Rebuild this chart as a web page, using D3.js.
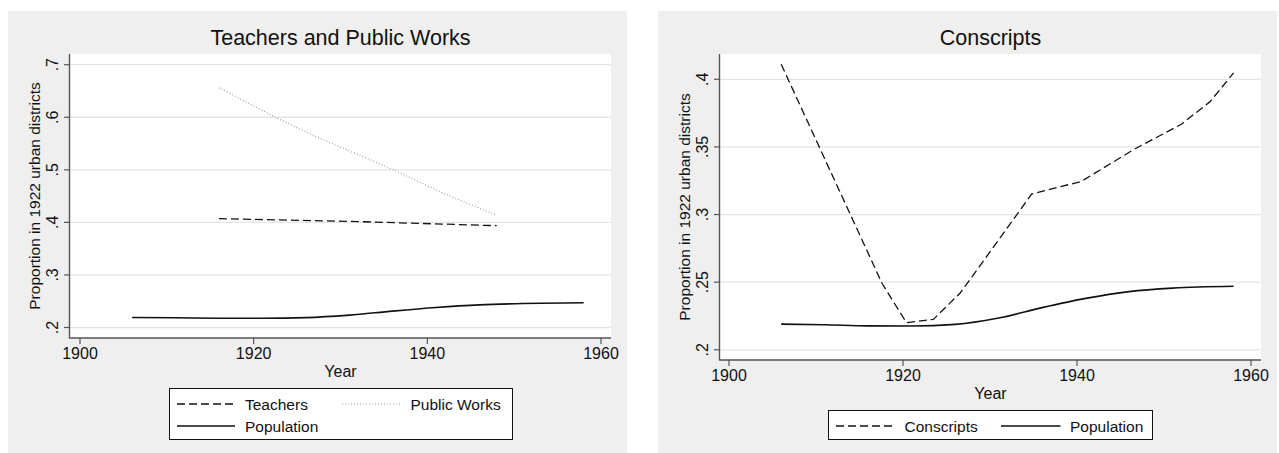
<!DOCTYPE html>
<html>
<head>
<meta charset="utf-8">
<script src="https://cdn.jsdelivr.net/npm/d3@7"></script>
<style>
  html, body { margin: 0; padding: 0; background: #ffffff; }
  svg { display: block; }
  text { font-family: "Liberation Sans", Arial, sans-serif; fill: #111; }
</style>
</head>
<body>
<svg id="chart" width="1279" height="453"></svg>
<script>
// ---------- Data ----------
const populationYears  = [1906, 1911, 1916, 1921, 1926, 1931, 1936, 1941, 1946, 1951, 1958];
const populationValues = [0.2190, 0.2185, 0.2177, 0.2176, 0.2188, 0.2235, 0.2312, 0.2380, 0.2430, 0.2456, 0.2470];

const teacherYears  = [1916, 1932, 1948];
const teacherValues = [0.4070, 0.4015, 0.3937];

const publicWorksYears  = [1916, 1922.6, 1927.6, 1935.7, 1941.8, 1948];
const publicWorksValues = [0.6562, 0.5993, 0.5600, 0.5032, 0.4558, 0.4133];

const conscriptYears  = [1906, 1917.6, 1920.4, 1923.5, 1926.6, 1934.8, 1940.5, 1946.5, 1952, 1955.3, 1958];
const conscriptValues = [0.4111, 0.2490, 0.2200, 0.2225, 0.2422, 0.3152, 0.3245, 0.3480, 0.3668, 0.3835, 0.4047];

const xTicks = [1900, 1920, 1940, 1960];
const leftYTicks  = [0.2, 0.3, 0.4, 0.5, 0.6, 0.7];
const leftYLabels = [".2", ".3", ".4", ".5", ".6", ".7"];
const rightYTicks  = [0.2, 0.25, 0.3, 0.35, 0.4];
const rightYLabels = [".2", ".25", ".3", ".35", ".4"];

const leftTitle  = "Teachers and Public Works";
const rightTitle = "Conscripts";
const xTitle = "Year";
const yTitle = "Proportion in 1922 urban districts";

// ---------- Drawing ----------
const svg = d3.select("#chart");

const styles = {
  dashed: { stroke: "#111", width: 1.3, dash: "8,4" },
  dotted: { stroke: "#999", width: 1.1, dash: "1,2" },
  solid:  { stroke: "#111", width: 1.6, dash: null }
};

function zip(xs, ys) { return xs.map((x, i) => ({ x: x, y: ys[i] })); }

function drawPanel(p) {
  const g = svg.append("g");
  g.append("rect").attr("x", p.bg[0]).attr("y", p.bg[1])
    .attr("width", p.bg[2]).attr("height", p.bg[3]).attr("fill", "#efefef");
  g.append("rect").attr("x", p.plot[0]).attr("y", p.plot[1])
    .attr("width", p.plot[2] - p.plot[0]).attr("height", p.plot[3] - p.plot[1])
    .attr("fill", "#ffffff");

  const x = d3.scaleLinear().domain([1900, 1960]).range(p.xRange);
  const y = d3.scaleLinear().domain(p.yDomain).range(p.yRange);

  g.selectAll(".grid").data(p.yTicks).enter().append("line")
    .attr("x1", p.plot[0]).attr("x2", p.plot[2])
    .attr("y1", d => y(d)).attr("y2", d => y(d))
    .attr("stroke", "#e4e4e4").attr("stroke-width", 1.3);

  p.series.forEach(s => {
    const st = styles[s.style];
    const line = d3.line().x(d => x(d.x)).y(d => y(d.y))
      .curve(s.smooth ? d3.curveMonotoneX : d3.curveLinear);
    g.append("path").datum(zip(s.xs, s.ys)).attr("d", line)
      .attr("fill", "none").attr("stroke", st.stroke)
      .attr("stroke-width", st.width)
      .attr("stroke-dasharray", st.dash)
      .attr("stroke-linejoin", "round");
  });

  const axisColor = "#555";
  g.append("line").attr("x1", p.plot[0] - 0.5).attr("x2", p.plot[0] - 0.5)
    .attr("y1", p.plot[1]).attr("y2", p.plot[3] + 0.5)
    .attr("stroke", axisColor).attr("stroke-width", 1.4);
  g.append("line").attr("x1", p.plot[0] - 0.5).attr("x2", p.plot[2])
    .attr("y1", p.plot[3]).attr("y2", p.plot[3])
    .attr("stroke", axisColor).attr("stroke-width", 1.4);

  g.selectAll(".yt").data(p.yTicks).enter().append("line")
    .attr("x1", p.plot[0] - 6).attr("x2", p.plot[0])
    .attr("y1", d => y(d)).attr("y2", d => y(d))
    .attr("stroke", axisColor).attr("stroke-width", 1.2);
  g.selectAll(".yl").data(p.yTicks).enter().append("text")
    .attr("transform", d => `translate(${p.plot[0] - 12.5},${y(d)}) rotate(-90)`)
    .attr("text-anchor", "middle").attr("font-size", 16)
    .text((d, i) => p.yLabels[i]);

  g.selectAll(".xt").data(xTicks).enter().append("line")
    .attr("x1", d => x(d)).attr("x2", d => x(d))
    .attr("y1", p.plot[3]).attr("y2", p.plot[3] + 6)
    .attr("stroke", axisColor).attr("stroke-width", 1.2);
  g.selectAll(".xl").data(xTicks).enter().append("text")
    .attr("x", d => x(d)).attr("y", p.plot[3] + 20.5)
    .attr("text-anchor", "middle").attr("font-size", 16)
    .text(d => d);

  const cx = (p.plot[0] + p.plot[2]) / 2;
  const cy = (p.plot[1] + p.plot[3]) / 2;
  g.append("text").attr("x", cx).attr("y", p.plot[3] + 38.5)
    .attr("text-anchor", "middle").attr("font-size", 16).text(xTitle);
  g.append("text")
    .attr("transform", `translate(${p.plot[0] - 30},${cy}) rotate(-90)`)
    .attr("text-anchor", "middle").attr("font-size", 15.5).text(yTitle);

  g.append("text").attr("x", cx).attr("y", 45)
    .attr("text-anchor", "middle").attr("font-size", 21.5).text(p.title);

  const lg = p.legend;
  g.append("rect").attr("x", lg.box[0] + 0.5).attr("y", lg.box[1] + 0.5)
    .attr("width", lg.box[2] - lg.box[0]).attr("height", lg.box[3] - lg.box[1])
    .attr("fill", "#fff").attr("stroke", "#111").attr("stroke-width", 1);
  lg.items.forEach(it => {
    const st = styles[it.style];
    g.append("line").attr("x1", it.x0).attr("x2", it.x1)
      .attr("y1", it.y).attr("y2", it.y)
      .attr("stroke", st.stroke).attr("stroke-width", st.width)
      .attr("stroke-dasharray", st.dash);
    g.append("text").attr("x", it.tx).attr("y", it.y + 5.5)
      .attr("font-size", 15.5).text(it.label);
  });
}

drawPanel({
  bg: [8, 11, 619, 442],
  plot: [70, 54, 611, 338],
  xRange: [80, 601],
  yDomain: [0.2, 0.7],
  yRange: [327.5, 64.7],
  yTicks: leftYTicks,
  yLabels: leftYLabels,
  title: leftTitle,
  series: [
    { xs: populationYears, ys: populationValues, style: "solid", smooth: true },
    { xs: teacherYears, ys: teacherValues, style: "dashed" },
    { xs: publicWorksYears, ys: publicWorksValues, style: "dotted" }
  ],
  legend: {
    box: [169, 388, 512, 439],
    items: [
      { label: "Teachers", style: "dashed", x0: 177, x1: 235, tx: 245, y: 404 },
      { label: "Public Works", style: "dotted", x0: 342, x1: 401, tx: 410.5, y: 404 },
      { label: "Population", style: "solid", x0: 177, x1: 235, tx: 245, y: 426 }
    ]
  }
});

drawPanel({
  bg: [658, 11, 619, 442],
  plot: [720, 54, 1261, 360],
  xRange: [729, 1251],
  yDomain: [0.2, 0.4],
  yRange: [349.8, 79.3],
  yTicks: rightYTicks,
  yLabels: rightYLabels,
  title: rightTitle,
  series: [
    { xs: populationYears, ys: populationValues, style: "solid", smooth: true },
    { xs: conscriptYears, ys: conscriptValues, style: "dashed" }
  ],
  legend: {
    box: [828, 410, 1152, 439],
    items: [
      { label: "Conscripts", style: "dashed", x0: 836, x1: 895, tx: 904.5, y: 426 },
      { label: "Population", style: "solid", x0: 1001, x1: 1060.5, tx: 1070, y: 426 }
    ]
  }
});
</script>
</body>
</html>
